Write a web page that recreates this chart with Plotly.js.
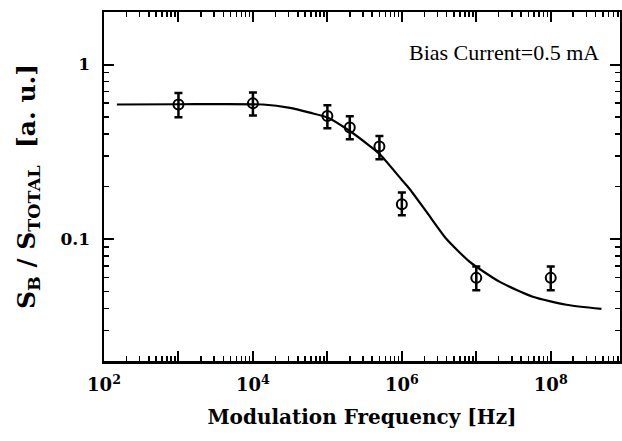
<!DOCTYPE html>
<html>
<head>
<meta charset="utf-8">
<script src="https://cdn.plot.ly/plotly-3.0.1.min.js"></script>
<style>html,body{margin:0;padding:0;background:#fff;}#chart{width:622px;height:441px;}</style>
</head>
<body>
<div id="chart"></div>
<script>
// Measured data points (frequency in Hz, normalized S_B/S_TOTAL)
const freqData = [1e3, 1e4, 1e5, 2e5, 5e5, 1e6, 1e7, 1e8];
const ratioData = [0.591, 0.599, 0.507, 0.435, 0.339, 0.158, 0.0599, 0.0599];
const errPlus  = [0.096, 0.093, 0.078, 0.070, 0.050, 0.027, 0.0098, 0.0098];
const errMinus = [0.093, 0.088, 0.076, 0.062, 0.052, 0.021, 0.0091, 0.0091];

// Fit curve
const freqFit = [149, 1.05e3, 1.36e4, 3.14e4, 5.82e4, 1.02e5, 2.0e5, 3.72e5, 5.07e5, 1.0e6, 1.28e6, 2.15e6, 3.98e6, 8.18e6, 2.07e7, 5.73e7, 1.62e8, 4.8e8];
const ratioFit = [0.59, 0.592, 0.59, 0.565, 0.53, 0.496, 0.416, 0.341, 0.306, 0.218, 0.193, 0.143, 0.10, 0.074, 0.0568, 0.0467, 0.042, 0.0398];

// Axis tick labels
const xDecades = [1e2, 1e3, 1e4, 1e5, 1e6, 1e7, 1e8, 1e9];
const xDecadeText = ['10<sup>2</sup>', '', '10<sup>4</sup>', '', '10<sup>6</sup>', '', '10<sup>8</sup>', ''];
const yDecades = [0.01, 0.1, 1];
const yDecadeText = ['', '0.1', '1'];

function minorVals(lo, hi) {
  const out = [];
  for (let e = lo; e <= hi; e++) for (let m = 2; m <= 9; m++) out.push(m * Math.pow(10, e));
  return out;
}

const serif = '"DejaVu Serif", "Liberation Serif", serif';
const times = '"Liberation Serif", serif';
const xRange = [2, 8.93];
const yRange = [Math.log10(0.02), Math.log10(2)];

const traces = [
  {
    x: freqFit, y: ratioFit, mode: 'lines', type: 'scatter',
    line: {color: '#000', width: 2.2, shape: 'spline', smoothing: 0.6},
    hoverinfo: 'skip'
  },
  {
    x: freqData, y: ratioData, mode: 'markers', type: 'scatter',
    marker: {symbol: 'circle-open', size: 10, color: '#000', line: {width: 2, color: '#000'}},
    error_y: {type: 'data', symmetric: false, array: errPlus, arrayminus: errMinus,
              color: '#000', thickness: 2.5, width: 4}
  }
];

const minorTickStyle = {ticks: 'inside', ticklen: 5, tickwidth: 1.5, tickcolor: '#000'};

const layout = {
  width: 622, height: 441,
  margin: {l: 104, r: 2, t: 12, b: 80},
  paper_bgcolor: '#fff', plot_bgcolor: '#fff',
  showlegend: false,
  font: {family: serif, color: '#000'},
  xaxis: {
    type: 'log', range: xRange,
    tickmode: 'array', tickvals: xDecades, ticktext: xDecadeText,
    ticks: 'inside', ticklen: 10, tickwidth: 2, tickcolor: '#000',
    showline: true, linewidth: 2.5, linecolor: '#000', mirror: 'ticks',
    showgrid: false, zeroline: false, ticklabelstandoff: 6,
    tickfont: {family: serif, size: 18, color: '#000', weight: 'bold'},
    title: {text: '<b>Modulation Frequency [Hz]</b>', font: {family: serif, size: 20, color: '#000'}, standoff: 16}
  },
  xaxis2: Object.assign({
    type: 'log', range: xRange, overlaying: 'x', side: 'bottom', anchor: 'y',
    tickmode: 'array', tickvals: minorVals(2, 8), showticklabels: false,
    showline: false, mirror: 'ticks', showgrid: false, zeroline: false
  }, minorTickStyle),
  yaxis: {
    type: 'log', range: yRange,
    tickmode: 'array', tickvals: yDecades, ticktext: yDecadeText,
    ticks: 'inside', ticklen: 10, tickwidth: 2, tickcolor: '#000',
    showline: true, linewidth: 2.5, linecolor: '#000', mirror: 'ticks',
    showgrid: false, zeroline: false, ticklabelstandoff: 8,
    tickfont: {family: serif, size: 17, color: '#000', weight: 'bold'},
    title: {text: '<b>S<sub>B</sub> / S<sub>TOTAL</sub>  [a. u.]</b>', font: {family: serif, size: 25, color: '#000'}, standoff: 18}
  },
  yaxis2: Object.assign({
    type: 'log', range: yRange, overlaying: 'y', side: 'left', anchor: 'x',
    tickmode: 'array', tickvals: minorVals(-2, 0), showticklabels: false,
    showline: false, mirror: 'ticks', showgrid: false, zeroline: false
  }, minorTickStyle),
  annotations: [{
    xref: 'paper', yref: 'paper', x: 0.775, y: 0.885, xanchor: 'center', yanchor: 'middle',
    text: 'Bias Current=0.5 mA', showarrow: false,
    font: {family: times, size: 22, color: '#000'}
  }]
};

// Invisible trace to activate the minor-tick overlay axes
traces.push({x: [1e3], y: [0.5], xaxis: 'x2', yaxis: 'y2', mode: 'markers',
  marker: {opacity: 0}, hoverinfo: 'skip', type: 'scatter'});

Plotly.newPlot('chart', traces, layout, {displayModeBar: false, staticPlot: true});
</script>
</body>
</html>
